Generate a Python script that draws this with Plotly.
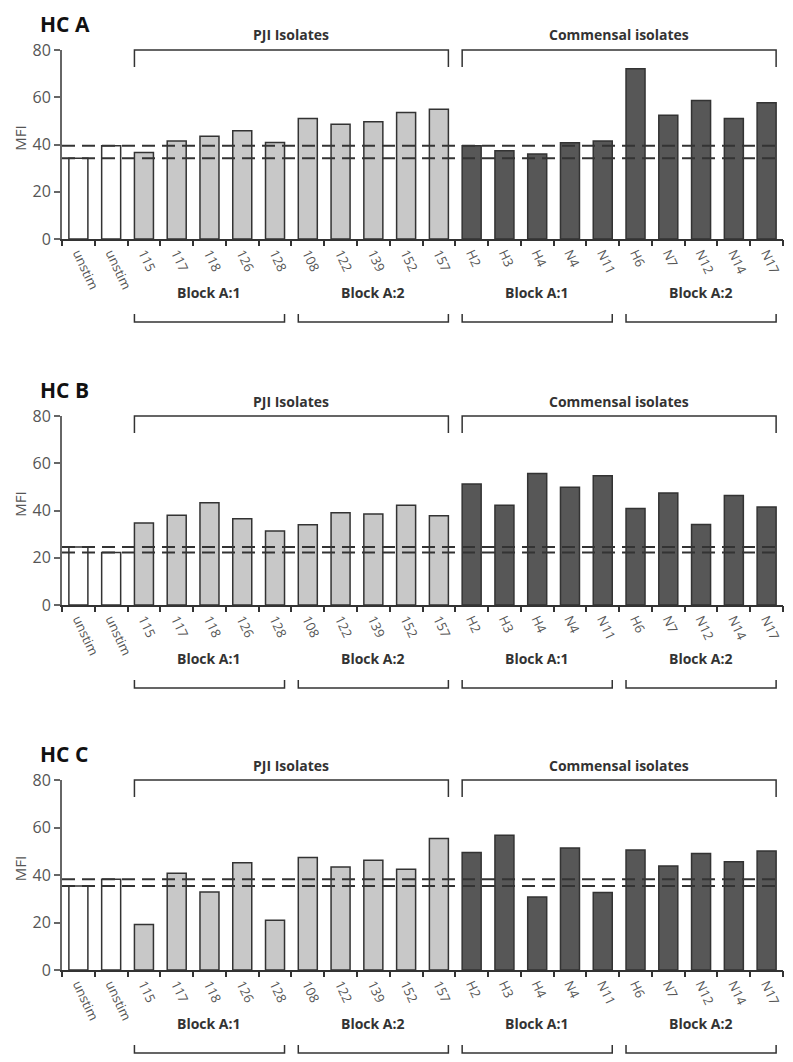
import plotly.graph_objects as go

categories = ["unstim", "unstim", "115", "117", "118", "126", "128", "108", "122", "139", "152", "157",
              "H2", "H3", "H4", "N4", "N11", "H6", "N7", "N12", "N14", "N17"]
groups = ["unstim"] * 2 + ["PJI"] * 10 + ["Commensal"] * 10
hc_a = [34.2, 39.5, 36.6, 41.5, 43.5, 45.8, 40.8, 51.0, 48.6, 49.6, 53.5, 54.9,
        39.5, 37.4, 36.0, 40.7, 41.5, 72.1, 52.4, 58.6, 51.0, 57.7]
hc_b = [24.5, 22.2, 34.7, 38.0, 43.3, 36.5, 31.3, 34.0, 39.1, 38.5, 42.2, 37.8,
        51.2, 42.2, 55.7, 49.8, 54.7, 40.8, 47.4, 34.1, 46.4, 41.5]
hc_c = [35.4, 38.2, 19.2, 40.7, 32.8, 45.2, 20.9, 47.4, 43.4, 46.2, 42.4, 55.4,
        49.5, 56.7, 30.7, 51.4, 32.6, 50.5, 43.8, 49.1, 45.6, 50.1]
panels = [("HC A", hc_a), ("HC B", hc_b), ("HC C", hc_c)]
y_ticks = [0, 20, 40, 60, 80]
group_labels = ["PJI Isolates", "Commensal isolates"]
group_spans = [(2, 11), (12, 21)]
block_labels = ["Block A:1", "Block A:2", "Block A:1", "Block A:2"]
block_spans = [(2, 6), (7, 11), (12, 16), (17, 21)]

fill_colors = {"unstim": "#ffffff", "PJI": "#c8c8c8", "Commensal": "#575757"}

# page body has an 8px margin, so the figure is sized/positioned to compensate
OFF = 8
W, H = 793 - OFF, 1062 - OFF
ML, MR = 62 - OFF, 10
panel_px = [(50 - OFF, 239 - OFF), (416 - OFF, 605 - OFF), (780 - OFF, 970 - OFF)]
HALF = 0.29  # half bar width in category units
BARGAP = 1 - 2 * HALF

TXT = "#333333"
FONT = "Open Sans"

fig = go.Figure()
layout = dict(
    width=W, height=H,
    margin=dict(l=ML, r=MR, t=0, b=0, autoexpand=False),
    paper_bgcolor="white", plot_bgcolor="white",
    showlegend=False, bargap=BARGAP,
    font=dict(family=FONT, color=TXT),
)
shapes = []
annotations = []
PW = W - ML - MR

xs = list(range(len(categories)))
for p, (title, vals) in enumerate(panels):
    n = p + 1
    xa = "x" if n == 1 else f"x{n}"
    ya = "y" if n == 1 else f"y{n}"
    xbn = "x" + str(len(panels) + n)  # overlay axis for boundary ticks
    top, bot = panel_px[p]
    dom = [1 - bot / H, 1 - top / H]
    ph = bot - top

    fig.add_trace(go.Bar(
        x=xs, y=vals, xaxis=xa, yaxis=ya,
        marker=dict(color=[fill_colors[g] for g in groups],
                    line=dict(color="#333333", width=1.5)),
        hoverinfo="skip",
    ))
    fig.add_trace(go.Scatter(x=[-0.5, 21.5], y=[0, 0], xaxis=xbn, yaxis=ya,
                             mode="markers", marker=dict(opacity=0), hoverinfo="skip"))

    layout["xaxis" + ("" if n == 1 else str(n))] = dict(
        anchor=ya, domain=[0, 1], range=[-0.5, 21.5], automargin=False,
        tickmode="array", tickvals=xs, ticktext=categories,
        tickangle=65, ticks="", showline=True, linecolor="#333333", linewidth=1.5,
        tickfont=dict(size=13, color="#555555", family=FONT),
        showgrid=False, zeroline=False,
    )
    layout["xaxis" + str(len(panels) + n)] = dict(
        anchor=ya, overlaying=xa, domain=[0, 1], range=[-0.5, 21.5], automargin=False,
        tickmode="array", tickvals=[i - 0.5 for i in range(len(categories) + 1)],
        showticklabels=False, ticks="outside", ticklen=6, tickwidth=1.5,
        tickcolor="#333333", showline=False, showgrid=False, zeroline=False,
    )
    layout["yaxis" + ("" if n == 1 else str(n))] = dict(
        anchor=xa, domain=dom, range=[0, 80], automargin=False,
        tickmode="array", tickvals=y_ticks, ticks="outside", ticklen=6, tickwidth=1.5,
        tickcolor="#666666", showline=True, linecolor="#666666", linewidth=2,
        tickfont=dict(size=16, color="#555555", family=FONT),
        showgrid=False, zeroline=False,
    )

    yd = ya + " domain"
    # y-axis title
    annotations.append(dict(text="MFI", xref="paper", yref=yd, x=-ML / PW, y=0.53,
                            textangle=-90, showarrow=False, xanchor="left", yanchor="middle",
                            font=dict(size=15, color="#555555", family=FONT)))

    # dashed lines at unstim levels
    for v in vals[:2]:
        shapes.append(dict(type="line", xref=xa, yref=ya, x0=-0.5, x1=21 + HALF, y0=v, y1=v,
                           line=dict(color="#333333", width=2, dash="13px,7px")))

    # top group brackets
    drop = 17 / ph
    for lab, (i0, i1) in zip(group_labels, group_spans):
        a, b = i0 - HALF, i1 + HALF
        shapes.append(dict(type="path", xref=xa, yref=yd,
                           path=f"M {a},{1 - drop} L {a},1 L {b},1 L {b},{1 - drop}",
                           line=dict(color="#333333", width=1.5)))
        annotations.append(dict(text=f"<b>{lab}</b>", xref=xa, yref=yd, x=(a + b) / 2,
                                y=1 + 15 / ph, showarrow=False, yanchor="middle",
                                font=dict(size=14, color=TXT, family=FONT)))
    # bottom block brackets
    yb = -83 / ph
    yt = -75 / ph
    for lab, (i0, i1) in zip(block_labels, block_spans):
        a, b = i0 - HALF, i1 + HALF
        shapes.append(dict(type="path", xref=xa, yref=yd,
                           path=f"M {a},{yt} L {a},{yb} L {b},{yb} L {b},{yt}",
                           line=dict(color="#333333", width=1.5)))
        annotations.append(dict(text=f"<b>{lab}</b>", xref=xa, yref=yd, x=(a + b) / 2,
                                y=-53 / ph, showarrow=False, yanchor="middle",
                                font=dict(size=14, color=TXT, family=FONT)))
    # panel title
    annotations.append(dict(text=f"<b>{title}</b>", xref="paper", yref=yd,
                            x=-24 / PW, y=1 + 42 / ph, xanchor="left", yanchor="top",
                            showarrow=False, font=dict(size=21, color="#111111", family=FONT)))

layout["shapes"] = shapes
layout["annotations"] = annotations
fig.update_layout(**layout)
fig.write_html("out.html")
